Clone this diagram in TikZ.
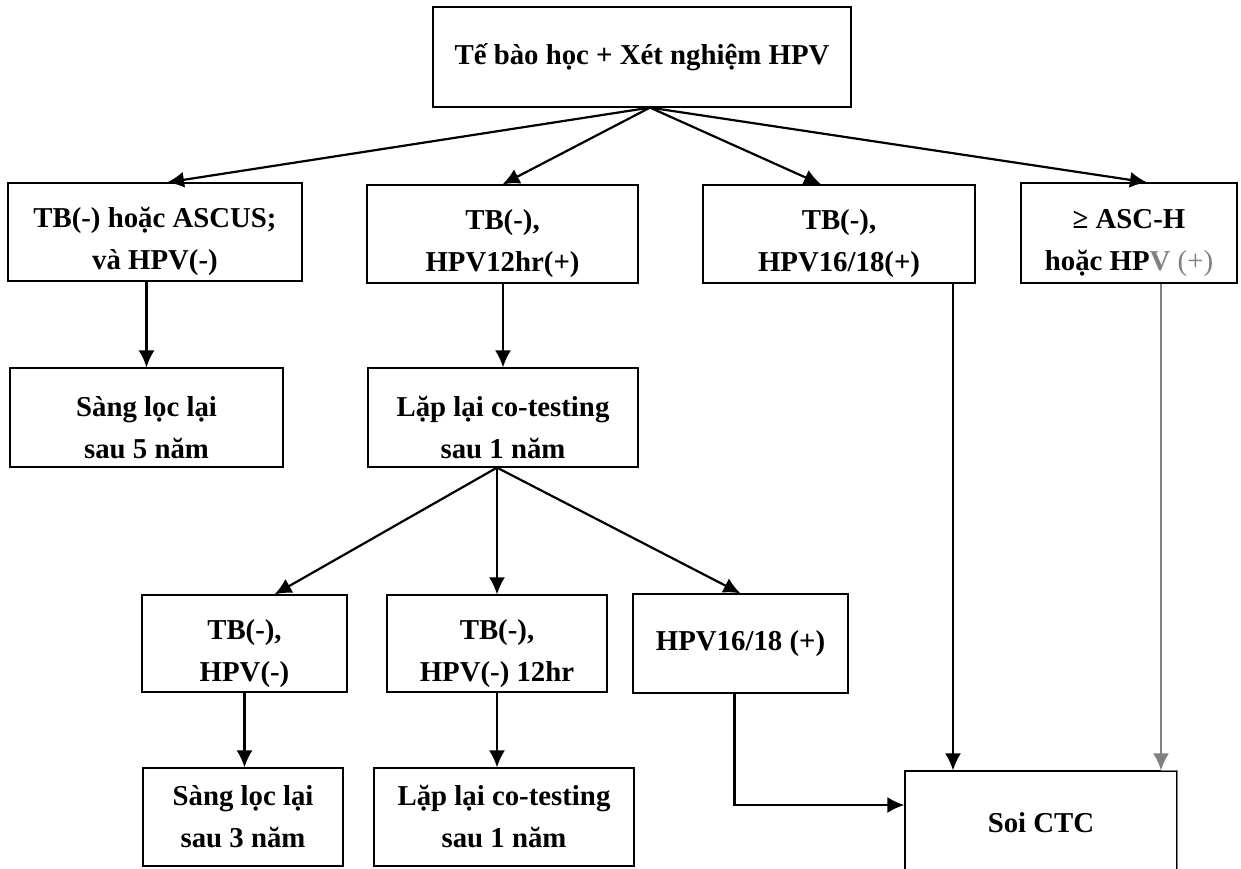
\documentclass[tikz,border=0pt]{standalone}
\usepackage{fontspec}
\setmainfont{Liberation Serif}
\usetikzlibrary{arrows.meta}
\newcommand{\topline}{\rule{0pt}{20pt}}
\tikzset{
  box/.style={draw, line width=0.6pt, align=center, inner sep=2pt,
    font=\fontsize{14.4}{21}\selectfont\bfseries},
  arr/.style={-{Latex[length=8.5pt,width=8pt]}, line width=1.1pt},
}
\begin{document}
\begin{tikzpicture}[x=0.5pt,y=-0.5pt]
\useasboundingbox (0,0) rectangle (1241,868);
% boxes
\node[box, minimum width=209pt, minimum height=50pt] (test) at (642,57) {Tế bào học + Xét nghiệm HPV};
\node[box, minimum width=147pt, minimum height=49pt] (neg) at (155,232) {\topline TB(-) hoặc ASCUS;\\ và HPV(-)};
\node[box, minimum width=135.5pt, minimum height=49pt] (hr) at (502.5,234) {\topline TB(-),\\ HPV12hr(+)};
\node[box, minimum width=136pt, minimum height=49pt] (hpvC) at (839,234) {\topline TB(-),\\ HPV16/18(+)};
\node[box, minimum width=108pt, minimum height=50pt] (asch) at (1129,233) {\topline ≥ ASC-H\\ hoặc HP\textcolor{gray}{V \mdseries(+)}};
\node[box, minimum width=136.5pt, minimum height=49.5pt] (screenA) at (146.5,417.5) {\topline Sàng lọc lại\\ sau 5 năm};
\node[box, minimum width=135pt, minimum height=49.5pt] (cotest) at (503,417.5) {\topline Lặp lại co-testing\\ sau 1 năm};
\node[box, minimum width=102.5pt, minimum height=48.5pt] (negB) at (244.5,643.5) {\topline TB(-),\\ HPV(-)};
\node[box, minimum width=110pt, minimum height=48.5pt] (hrB) at (497,643.5) {\topline TB(-),\\ HPV(-) 12hr};
\node[box, minimum width=107.5pt, minimum height=49.5pt] (hpvB) at (740.5,643.5) {HPV16/18 (+)};
\node[box, minimum width=100pt, minimum height=49pt] (screenB) at (243,817) {Sàng lọc lại\\ sau 3 năm};
\node[box, minimum width=130pt, minimum height=49pt] (cotestB) at (504,817) {Lặp lại co-testing\\ sau 1 năm};
\node[box, minimum width=136pt, minimum height=52pt] (ctc) at (1041,823) {Soi CTC};
% connectors
\coordinate (split) at ([xshift=4pt]test.south);
\draw[arr] (split) -- ([xshift=6pt]neg.north);
\draw[arr] (split) -- (hr.north);
\draw[arr] (split) -- ([xshift=-9pt]hpvC.north);
\draw[arr] (split) -- ([xshift=9pt]asch.north);
\draw[arr] (neg.south -| screenA.north) -- (screenA.north);
\draw[arr] (cotest.north |- hr.south) -- (cotest.north);
\coordinate (split2) at ([xshift=-3pt]cotest.south);
\draw[arr] (split2) -- ([xshift=15pt]negB.north);
\draw[arr] (split2) -- (hrB.north);
\draw[arr] (split2) -- (hpvB.north);
\draw[arr] (negB.south) -- (negB.south |- screenB.north);
\draw[arr] (hrB.south) -- (hrB.south |- cotestB.north);
\draw[arr] ([xshift=-3pt]hpvB.south) |- ([yshift=9pt]ctc.west);
\coordinate (fromC) at ([xshift=-44pt]ctc.north);
\draw[arr] (hpvC.south -| fromC) -- (fromC);
\coordinate (fromD) at ([xshift=60pt]ctc.north);
\draw[arr, gray] (asch.south -| fromD) -- (fromD);
\draw[gray, line width=0.6pt] (fromD) -- (ctc.north east) -- (ctc.south east);
\end{tikzpicture}
\end{document}
